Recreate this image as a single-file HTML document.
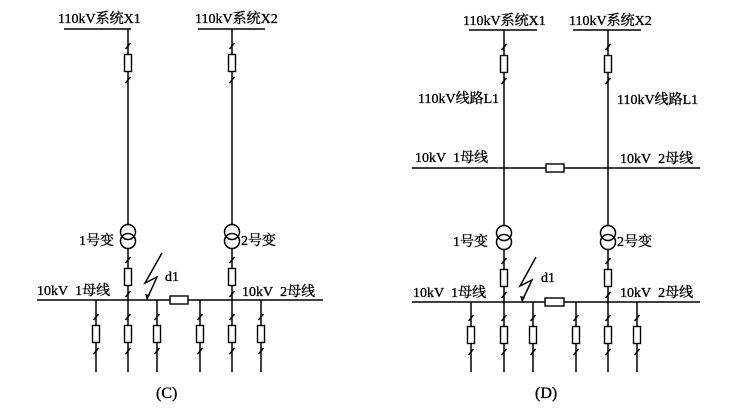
<!DOCTYPE html>
<html><head><meta charset="utf-8"><style>
body{margin:0;background:#fff}
svg{display:block}
text{font-family:"Liberation Serif","Noto Serif CJK SC",serif;font-size:14px;fill:#000;stroke:#000;stroke-width:0.35}
</style></head><body>
<svg width="734" height="408" viewBox="0 0 734 408" xmlns="http://www.w3.org/2000/svg">
<defs>
<g id="brk" stroke="#000" stroke-width="1.4" fill="#fff">
<rect x="-3.5" y="-8.5" width="7" height="17"/>
<line x1="-2.5" y1="-14" x2="2.5" y2="-20"/>
<line x1="-2.5" y1="20" x2="2.5" y2="14"/>
</g>
<g id="tr" stroke="#000" stroke-width="1.5" fill="none">
<circle cx="0" cy="0" r="7.5"/><circle cx="0" cy="9" r="7.5"/>
</g>
</defs>
<g stroke="#000" stroke-width="1.5" fill="none">
<line x1="64" y1="29" x2="131" y2="29"/>
<line x1="198" y1="29" x2="265" y2="29"/>
<line x1="128" y1="29" x2="128" y2="225"/>
<line x1="232" y1="29" x2="232" y2="225"/>
<line x1="128" y1="249" x2="128" y2="372"/>
<line x1="232" y1="249" x2="232" y2="372"/>
<line x1="37" y1="300" x2="323" y2="300"/>
<line x1="96" y1="300" x2="96" y2="372"/>
<line x1="157" y1="300" x2="157" y2="372"/>
<line x1="200" y1="300" x2="200" y2="372"/>
<line x1="261" y1="300" x2="261" y2="372"/>
<polyline points="162,253 145,283 157,277 147,299"/>
<line x1="469" y1="30" x2="537" y2="30"/>
<line x1="573" y1="30" x2="641" y2="30"/>
<line x1="504" y1="30" x2="504" y2="225"/>
<line x1="608" y1="30" x2="608" y2="225"/>
<line x1="412" y1="168" x2="700" y2="168"/>
<line x1="504" y1="249" x2="504" y2="372"/>
<line x1="608" y1="249" x2="608" y2="372"/>
<line x1="412" y1="302" x2="700" y2="302"/>
<line x1="471" y1="302" x2="471" y2="372"/>
<line x1="533" y1="302" x2="533" y2="372"/>
<line x1="576" y1="302" x2="576" y2="372"/>
<line x1="637" y1="302" x2="637" y2="372"/>
<polyline points="536,257 520,286 532,280 522,301"/>
</g>
<g fill="#000"><polygon points="147,300 145,294 150,295"/><polygon points="522,302 520,296 525,297"/></g>
<use href="#brk" x="128" y="63"/><use href="#brk" x="232" y="63"/>
<use href="#brk" x="128" y="277"/><use href="#brk" x="232" y="277"/>
<use href="#brk" x="96" y="334"/><use href="#brk" x="128" y="334"/><use href="#brk" x="157" y="334"/>
<use href="#brk" x="200" y="334"/><use href="#brk" x="232" y="334"/><use href="#brk" x="261" y="334"/>
<rect x="170" y="296" width="18" height="8" stroke="#000" stroke-width="1.4" fill="#fff"/>
<use href="#tr" x="128" y="232"/><use href="#tr" x="232" y="232"/>
<use href="#brk" x="504" y="64"/><use href="#brk" x="608" y="64"/>
<use href="#brk" x="504" y="278"/><use href="#brk" x="608" y="278"/>
<use href="#brk" x="471" y="335"/><use href="#brk" x="504" y="335"/><use href="#brk" x="533" y="335"/>
<use href="#brk" x="576" y="335"/><use href="#brk" x="608" y="335"/><use href="#brk" x="637" y="335"/>
<rect x="546" y="164" width="18" height="8" stroke="#000" stroke-width="1.4" fill="#fff"/>
<rect x="545" y="298" width="19" height="8" stroke="#000" stroke-width="1.4" fill="#fff"/>
<use href="#tr" x="504" y="233"/><use href="#tr" x="608" y="233"/>
<text x="58" y="23">110kV系统X1</text>
<text x="195" y="23">110kV系统X2</text>
<text x="79" y="245">1号变</text>
<text x="241" y="245">2号变</text>
<text x="165" y="281">d1</text>
<text x="37" y="295">10kV&#160;&#160;1母线</text>
<text x="242" y="296">10kV&#160;&#160;2母线</text>
<text x="156" y="398" style="font-size:16px">(C)</text>
<text x="463" y="25">110kV系统X1</text>
<text x="569" y="25">110kV系统X2</text>
<text x="418" y="103">110kV线路L1</text>
<text x="617" y="104">110kV线路L1</text>
<text x="415" y="162">10kV&#160;&#160;1母线</text>
<text x="620" y="163">10kV&#160;&#160;2母线</text>
<text x="453" y="246">1号变</text>
<text x="617" y="246">2号变</text>
<text x="541" y="282">d1</text>
<text x="413" y="297">10kV&#160;&#160;1母线</text>
<text x="620" y="297">10kV&#160;&#160;2母线</text>
<text x="535" y="398" style="font-size:16px">(D)</text>
</svg>
</body></html>
